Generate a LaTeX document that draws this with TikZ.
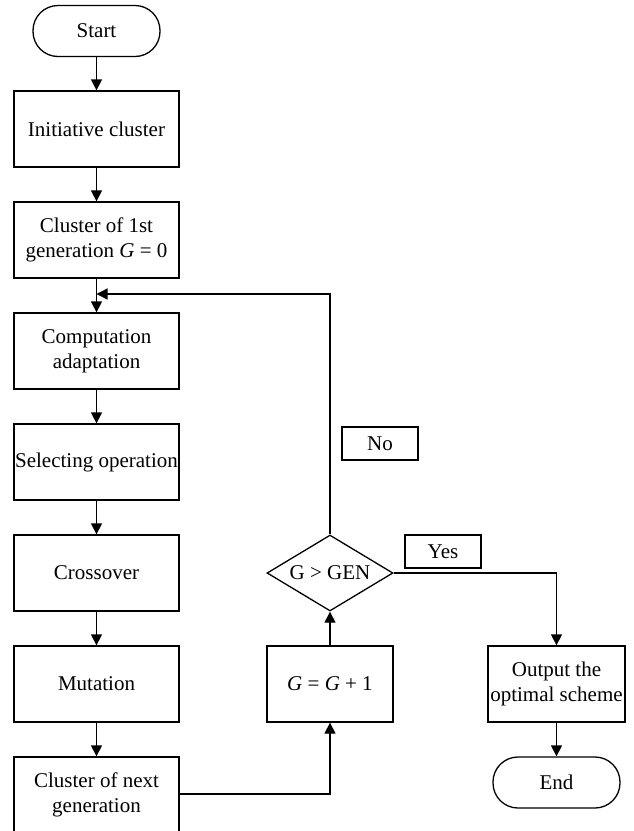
\documentclass[tikz,border=0pt]{standalone}
\usepackage{fontspec}
\setmainfont{Liberation Serif}
\usetikzlibrary{shapes.geometric,arrows.meta}
\begin{document}
\begin{tikzpicture}[x=1pt,y=-1pt,
  every node/.style={font=\fontsize{21}{25}\selectfont},
  box/.style={draw,line width=1.3pt,minimum width=165pt,minimum height=76pt,inner sep=0pt,align=center},
  rbox/.style={draw,line width=1.3pt,minimum width=126pt,minimum height=76pt,inner sep=0pt,align=center},
  term/.style={draw,line width=1.3pt,rounded corners=25pt,minimum width=127pt,minimum height=51pt,inner sep=0pt},
  lbl/.style={draw,line width=1.3pt,minimum width=76pt,minimum height=33pt,inner sep=0pt},
  dec/.style={draw,diamond,line width=1.3pt,minimum width=126pt,minimum height=76pt,aspect=1.66,inner sep=0pt},
  conn/.style={line width=1.3pt,-{Triangle[length=11pt,width=11pt]}}]
\useasboundingbox (0,0) rectangle (633,831);
\node[term] (start) at (96.5,31) {Start};
\node[box] (init) at (96.5,129) {Initiative cluster};
\node[box] (c1) at (96.5,240) {Cluster of 1st\\generation \textit{G} = 0};
\node[box] (comp) at (96.5,351) {Computation\\adaptation};
\node[box] (sel) at (96.5,462) {Selecting operation};
\node[box] (cross) at (96.5,573) {Crossover};
\node[box] (mut) at (96.5,684) {Mutation};
\node[box] (next) at (96.5,795) {Cluster of next\\generation};
\node[rbox] (inc) at (330,684) {\textit{G} = \textit{G} + 1};
\node[dec] (dia) at (330,573) {G > GEN};
\node[lbl] (no) at (380,443.5) {No};
\node[lbl] (yes) at (443,551.5) {Yes};
\node[box,minimum width=137pt] (out) at (556.5,684) {Output the\\optimal scheme};
\node[term] (end) at (556.5,782.5) {End};
\coordinate (join) at (96.5,294);
\draw[conn] (start) -- (init);
\draw[conn] (init) -- (c1);
\draw[conn] (c1) -- (comp);
\draw[conn] (comp) -- (sel);
\draw[conn] (sel) -- (cross);
\draw[conn] (cross) -- (mut);
\draw[conn] (mut) -- (next);
\draw[conn] (next.east |- 0,794) -| (inc.south);
\draw[conn] (inc) -- (dia);
\draw[conn] (dia.north) |- (join);
\draw[conn] (dia.east) -| (out.north);
\draw[conn] (out) -- (end);
\end{tikzpicture}
\end{document}
